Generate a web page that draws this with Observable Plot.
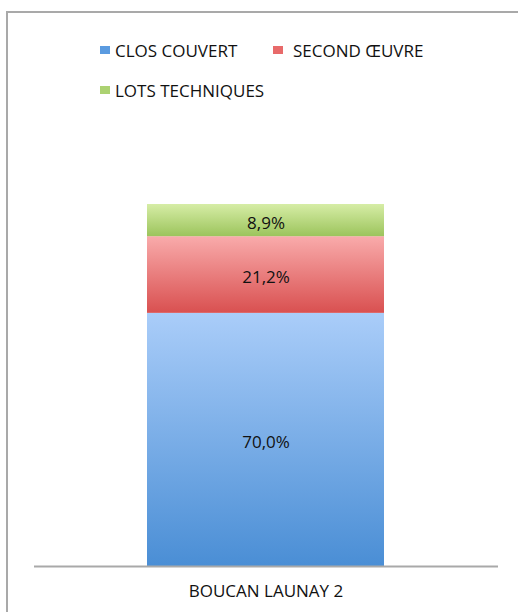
<!DOCTYPE html>
<html>
<head>
<meta charset="utf-8">
<script src="https://cdn.jsdelivr.net/npm/d3@7"></script>
<script src="https://cdn.jsdelivr.net/npm/@observablehq/plot@0.6"></script>
<style>
  html, body { margin: 0; padding: 0; background: #fff; }
  body { width: 518px; height: 612px; position: relative; overflow: hidden; font-family: "Open Sans", sans-serif; }
  #frame { position: absolute; left: 6px; top: 11px; width: 520px; height: 620px; border-left: 2px solid #a9a9a9; border-top: 2px solid #a9a9a9; box-sizing: border-box; }
  #chart { position: absolute; left: 0; top: 0; }
  .leg { position: absolute; display: flex; align-items: center; font-size: 17px; color: #111; white-space: nowrap; }
  .sw { width: 10px; height: 8px; margin-right: 6px; }
</style>
</head>
<body>
<div id="frame"></div>
<div id="chart"></div>
<div id="legend"></div>
<script>
const site = "BOUCAN LAUNAY 2";
const series = ["CLOS COUVERT", "SECOND ŒUVRE", "LOTS TECHNIQUES"];
const values = [70.0, 21.2, 8.9];
const gradTop = ["#aacdf9", "#f9abab", "#d6eda6"];
const gradBottom = ["#4a8ed5", "#d95050", "#9cc45c"];
const swatch = ["#5b9be0", "#e86a6a", "#acd272"];

const rows = series.map((s, i) => ({site, series: s, value: values[i], fill: `url(#grad${i})`}));
const total = d3.sum(values);
const fmt = v => v.toFixed(1).replace(".", ",") + "%";

const chart = Plot.plot({
  width: 518,
  height: 612,
  marginLeft: 34,
  marginRight: 20,
  marginTop: 204,
  marginBottom: 46,
  style: {fontFamily: "'Open Sans', sans-serif", fontSize: "17px", color: "#111", background: "transparent"},
  x: {domain: [site], padding: 0.322, label: null, tickSize: 0, tickPadding: 18},
  y: {domain: [0, total], axis: null},
  color: {type: "identity"},
  marks: [
    Plot.barY(rows, Plot.stackY({x: "site", y: "value", fill: "fill"})),
    Plot.text(rows, Plot.stackY({x: "site", y: "value", text: d => fmt(d.value), fill: "#111", fontSize: 17, dy: 3})),
    Plot.ruleY([0], {stroke: "#a9a9a9", strokeWidth: 2})
  ]
});

// gradients
const svg = d3.select(chart);
const defs = svg.insert("defs", ":first-child");
series.forEach((s, i) => {
  const g = defs.append("linearGradient").attr("id", `grad${i}`).attr("x1", 0).attr("y1", 0).attr("x2", 0).attr("y2", 1);
  g.append("stop").attr("offset", "0%").attr("stop-color", gradTop[i]);
  g.append("stop").attr("offset", "100%").attr("stop-color", gradBottom[i]);
});
document.getElementById("chart").appendChild(chart);

// legend
const legPos = [[100, 50], [273, 50], [100, 90]];
const legend = document.getElementById("legend");
series.forEach((s, i) => {
  const el = document.createElement("div");
  el.className = "leg";
  el.style.left = legPos[i][0] + "px";
  el.style.top = (legPos[i][1] - 12) + "px";
  el.style.height = "24px";
  const sw = document.createElement("span");
  sw.className = "sw";
  sw.style.background = swatch[i];
  sw.style.marginRight = (i === 1 ? 10 : 5) + "px";
  el.appendChild(sw);
  el.appendChild(document.createTextNode(s));
  legend.appendChild(el);
});
</script>
</body>
</html>
